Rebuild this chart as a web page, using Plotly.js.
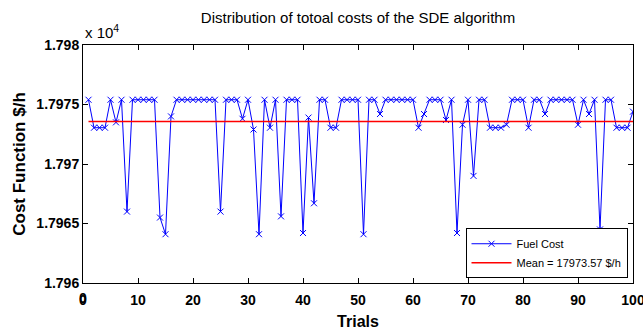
<!DOCTYPE html>
<html>
<head>
<meta charset="utf-8">
<script src="https://cdn.plot.ly/plotly-3.0.1.min.js"></script>
<style>html,body{margin:0;padding:0;background:#fff;}#chart{width:643px;height:333px;}</style>
</head>
<body>
<div id="chart"></div>
<script>
var trials = [];
for (var i = 1; i <= 100; i++) trials.push(i);

var fuelCost = [
  17975.4, 17973.05, 17973.05, 17973.05, 17975.4, 17973.5, 17975.4, 17966.0, 17975.4, 17975.4,
  17975.4, 17975.4, 17975.4, 17965.5, 17964.1, 17974.0, 17975.4, 17975.4, 17975.4, 17975.4,
  17975.4, 17975.4, 17975.4, 17975.4, 17966.0, 17975.4, 17975.4, 17975.4, 17973.8, 17975.4,
  17972.9, 17964.1, 17975.4, 17973.05, 17975.4, 17965.6, 17975.4, 17975.4, 17975.4, 17964.2,
  17973.9, 17966.7, 17975.4, 17975.4, 17973.05, 17973.05, 17975.4, 17975.4, 17975.4, 17975.4,
  17964.1, 17975.4, 17975.4, 17974.2, 17975.4, 17975.4, 17975.4, 17975.4, 17975.4, 17975.4,
  17973.05, 17974.2, 17975.4, 17975.4, 17975.4, 17973.7, 17975.4, 17964.2, 17973.3, 17975.4,
  17969.0, 17975.4, 17975.4, 17973.05, 17973.05, 17973.05, 17973.3, 17975.4, 17975.4, 17975.4,
  17973.05, 17975.4, 17975.4, 17974.2, 17975.4, 17975.4, 17975.4, 17975.4, 17975.4, 17973.3,
  17975.4, 17974.2, 17975.4, 17964.5, 17975.4, 17975.4, 17973.05, 17973.05, 17973.05, 17974.4
];

var meanValue = 17973.57;
var meanLine = trials.map(function () { return meanValue; });

var xTickVals = [0, 10, 20, 30, 40, 50, 60, 70, 80, 90, 100];
var xTickText = ["0", "10", "20", "30", "40", "50", "60", "70", "80", "90", "100"];
var yTickVals = [17960, 17965, 17970, 17975, 17980];
var yTickText = ["1.796", "1.7965", "1.797", "1.7975", "1.798"];

var sans = "Liberation Sans, Arial, sans-serif";

var traces = [
  {
    x: trials, y: fuelCost, type: "scatter", mode: "lines+markers",
    name: "Fuel Cost",
    line: {color: "#0000ff", width: 1},
    marker: {symbol: "x-thin-open", size: 6, color: "#0000ff", line: {color: "#0000ff", width: 1}}
  },
  {
    x: trials, y: meanLine, type: "scatter", mode: "lines",
    name: "Mean = 17973.57 $/h",
    line: {color: "#ff0000", width: 1.5}
  }
];

var layout = {
  width: 643, height: 333,
  margin: {l: 83, r: 10, t: 45, b: 50},
  paper_bgcolor: "#ffffff", plot_bgcolor: "#ffffff",
  showlegend: true,
  hovermode: false,
  title: {
    text: "Distribution of totoal costs of the SDE algorithm",
    font: {family: sans, size: 15, color: "#000"},
    x: 0.5, xref: "paper", y: 1 - 18 / 333, yref: "container", yanchor: "middle"
  },
  xaxis: {
    range: [0, 100], tickvals: xTickVals, ticktext: xTickText,
    ticks: "inside", ticklen: 5, tickcolor: "#000", tickwidth: 1,
    ticklabeloverflow: "allow", ticklabelstandoff: 4,
    showline: true, linecolor: "#000", linewidth: 1, mirror: "allticks",
    showgrid: false, zeroline: false,
    tickfont: {family: sans, size: 14, color: "#000", weight: "bold"},
    title: {text: "<b>Trials</b>", font: {family: sans, size: 16, color: "#000"}, standoff: 9}
  },
  yaxis: {
    range: [17960, 17980], tickvals: yTickVals, ticktext: yTickText,
    ticks: "inside", ticklen: 5, tickcolor: "#000", tickwidth: 1,
    ticklabeloverflow: "allow",
    showline: true, linecolor: "#000", linewidth: 1, mirror: "allticks",
    showgrid: false, zeroline: false,
    tickfont: {family: sans, size: 14, color: "#000", weight: "bold"},
    title: {text: "<b>Cost Function $/h</b>", font: {family: sans, size: 17, color: "#000"}, standoff: 6}
  },
  legend: {
    x: 0.99, y: 0.02, xanchor: "right", yanchor: "bottom",
    bgcolor: "#ffffff", bordercolor: "#000", borderwidth: 1,
    font: {family: sans, size: 11, color: "#000"},
    itemwidth: 40,
    tracegroupgap: 2
  },
  annotations: [
    {
      text: "x 10<sup>4</sup>", xref: "paper", yref: "paper", x: 0, y: 1,
      xanchor: "left", yanchor: "bottom", showarrow: false, yshift: 2,
      font: {family: sans, size: 15, color: "#000"}
    },
    {
      // first x tick label, which Plotly suppresses at the corner
      text: "<b>" + xTickText[0] + "</b>", xref: "x", yref: "paper", x: xTickVals[0], y: 0,
      xanchor: "center", yanchor: "top", showarrow: false, yshift: -5,
      font: {family: sans, size: 14, color: "#000"}
    }
  ]
};

Plotly.newPlot("chart", traces, layout, {displayModeBar: false, staticPlot: true});
</script>
</body>
</html>
